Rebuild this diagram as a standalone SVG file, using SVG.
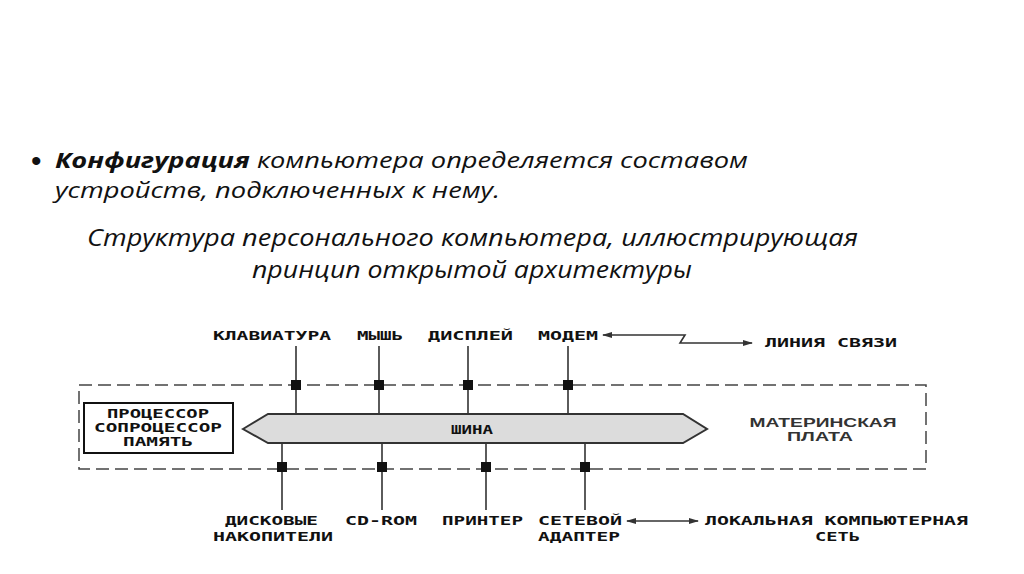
<svg xmlns="http://www.w3.org/2000/svg" width="1024" height="574" viewBox="0 0 1024 574">
<defs>
<style>
.t1{font-family:"Open Sans","Liberation Sans",sans-serif;font-style:italic;font-size:22px;fill:#111}
.cap{font-family:"Open Sans","Liberation Sans",sans-serif;font-style:italic;font-weight:400;font-size:24px;fill:#111}
.px{font-family:"DejaVu Sans Mono","Liberation Mono",monospace;font-weight:bold;font-size:13px;fill:#111}
.mb{font-family:"Liberation Sans",Arial,sans-serif;font-weight:bold;font-size:13px;fill:#333}
.ln{stroke:#333;stroke-width:1.6;fill:none}
.dash{stroke:#444;stroke-width:1.5;fill:none;stroke-dasharray:13 6}
.sq{fill:#111}
</style>
<marker id="ah" viewBox="0 0 10 6" refX="9" refY="3" markerWidth="10" markerHeight="6" orient="auto-start-reverse" markerUnits="userSpaceOnUse">
<path d="M0,0 L10,3 L0,6 z" fill="#333"/>
</marker>
</defs>
<rect width="1024" height="574" fill="#fff"/>

<g id="heading">
<text x="31" y="171" font-family="Liberation Sans, sans-serif" font-size="30" fill="#111">•</text>
<text x="55" y="168" class="t1" textLength="693" lengthAdjust="spacingAndGlyphs"><tspan font-weight="bold">Конфигурация</tspan> компьютера определяется составом</text>
<text x="55" y="198" class="t1" textLength="445" lengthAdjust="spacingAndGlyphs">устройств, подключенных к нему.</text>
</g>
<g id="caption">
<text x="87" y="246" class="cap" textLength="771" lengthAdjust="spacingAndGlyphs">Структура персонального компьютера, иллюстрирующая</text>
<text x="252" y="278" class="cap" textLength="440" lengthAdjust="spacingAndGlyphs">принцип открытой архитектуры</text>
</g>

<g id="motherboard-frame">
<rect x="79" y="385" width="847" height="84" class="dash"/>
</g>

<g id="connectors">
<line x1="296" y1="346" x2="296" y2="414" class="ln"/>
<line x1="379" y1="346" x2="379" y2="414" class="ln"/>
<line x1="468" y1="346" x2="468" y2="414" class="ln"/>
<line x1="568" y1="346" x2="568" y2="414" class="ln"/>
<line x1="282" y1="443" x2="282" y2="510" class="ln"/>
<line x1="382" y1="443" x2="382" y2="510" class="ln"/>
<line x1="486" y1="443" x2="486" y2="510" class="ln"/>
<line x1="585" y1="443" x2="585" y2="510" class="ln"/>
<polyline points="603,335 685,335 680,343 752,343" class="ln" marker-start="url(#ah)" marker-end="url(#ah)"/>
<line x1="627" y1="521" x2="698" y2="521" class="ln" marker-start="url(#ah)" marker-end="url(#ah)"/>
<rect x="291" y="380" width="10" height="10" class="sq"/>
<rect x="374" y="380" width="10" height="10" class="sq"/>
<rect x="463" y="380" width="10" height="10" class="sq"/>
<rect x="563" y="380" width="10" height="10" class="sq"/>
<rect x="277" y="462" width="10" height="10" class="sq"/>
<rect x="377" y="462" width="10" height="10" class="sq"/>
<rect x="481" y="462" width="10" height="10" class="sq"/>
<rect x="580" y="462" width="10" height="10" class="sq"/>
</g>

<g id="bus">
<polygon points="243,429 268,414 683,414 707,429 683,443 268,443" fill="#dcdcdc" stroke="#333" stroke-width="2"/>
<text x="472" y="434" class="px" text-anchor="middle" textLength="42" lengthAdjust="spacingAndGlyphs">ШИНА</text>
</g>

<g id="cpu">
<rect x="84" y="403" width="149" height="50" fill="#fff" stroke="#111" stroke-width="2"/>
<text x="158" y="418" class="px" text-anchor="middle" textLength="102" lengthAdjust="spacingAndGlyphs">ПРОЦЕССОР</text>
<text x="158" y="432" class="px" text-anchor="middle" textLength="128" lengthAdjust="spacingAndGlyphs">СОПРОЦЕССОР</text>
<text x="158" y="446" class="px" text-anchor="middle" textLength="70" lengthAdjust="spacingAndGlyphs">ПАМЯТЬ</text>
</g>

<g id="mb-label">
<text x="823" y="427" class="mb" text-anchor="middle" textLength="147" lengthAdjust="spacingAndGlyphs">МАТЕРИНСКАЯ</text>
<text x="820" y="441" class="mb" text-anchor="middle" textLength="66" lengthAdjust="spacingAndGlyphs">ПЛАТА</text>
</g>

<g id="keyboard"><text x="213" y="340" class="px" textLength="118" lengthAdjust="spacingAndGlyphs">КЛАВИАТУРА</text></g>
<g id="mouse"><text x="357" y="340" class="px" textLength="46" lengthAdjust="spacingAndGlyphs">МЫШЬ</text></g>
<g id="display"><text x="428" y="340" class="px" textLength="85" lengthAdjust="spacingAndGlyphs">ДИСПЛЕЙ</text></g>
<g id="modem"><text x="538" y="340" class="px" textLength="60" lengthAdjust="spacingAndGlyphs">МОДЕМ</text></g>
<g id="line"><text x="765" y="347" class="px" textLength="132" lengthAdjust="spacingAndGlyphs">ЛИНИЯ  СВЯЗИ</text></g>

<g id="disks">
<text x="225" y="525" class="px" textLength="93" lengthAdjust="spacingAndGlyphs">ДИСКОВЫЕ</text>
<text x="213" y="541" class="px" textLength="120" lengthAdjust="spacingAndGlyphs">НАКОПИТЕЛИ</text>
</g>
<g id="cdrom"><text x="345" y="525" class="px" textLength="72" lengthAdjust="spacingAndGlyphs">CD-ROM</text></g>
<g id="printer"><text x="442" y="525" class="px" textLength="81" lengthAdjust="spacingAndGlyphs">ПРИНТЕР</text></g>
<g id="netadapter">
<text x="538" y="525" class="px" textLength="84" lengthAdjust="spacingAndGlyphs">СЕТЕВОЙ</text>
<text x="538" y="541" class="px" textLength="82" lengthAdjust="spacingAndGlyphs">АДАПТЕР</text>
</g>
<g id="lan">
<text x="705" y="525" class="px" textLength="263" lengthAdjust="spacingAndGlyphs">ЛОКАЛЬНАЯ  КОМПЬЮТЕРНАЯ</text>
<text x="815" y="541" class="px" textLength="45" lengthAdjust="spacingAndGlyphs">СЕТЬ</text>
</g>
</svg>
